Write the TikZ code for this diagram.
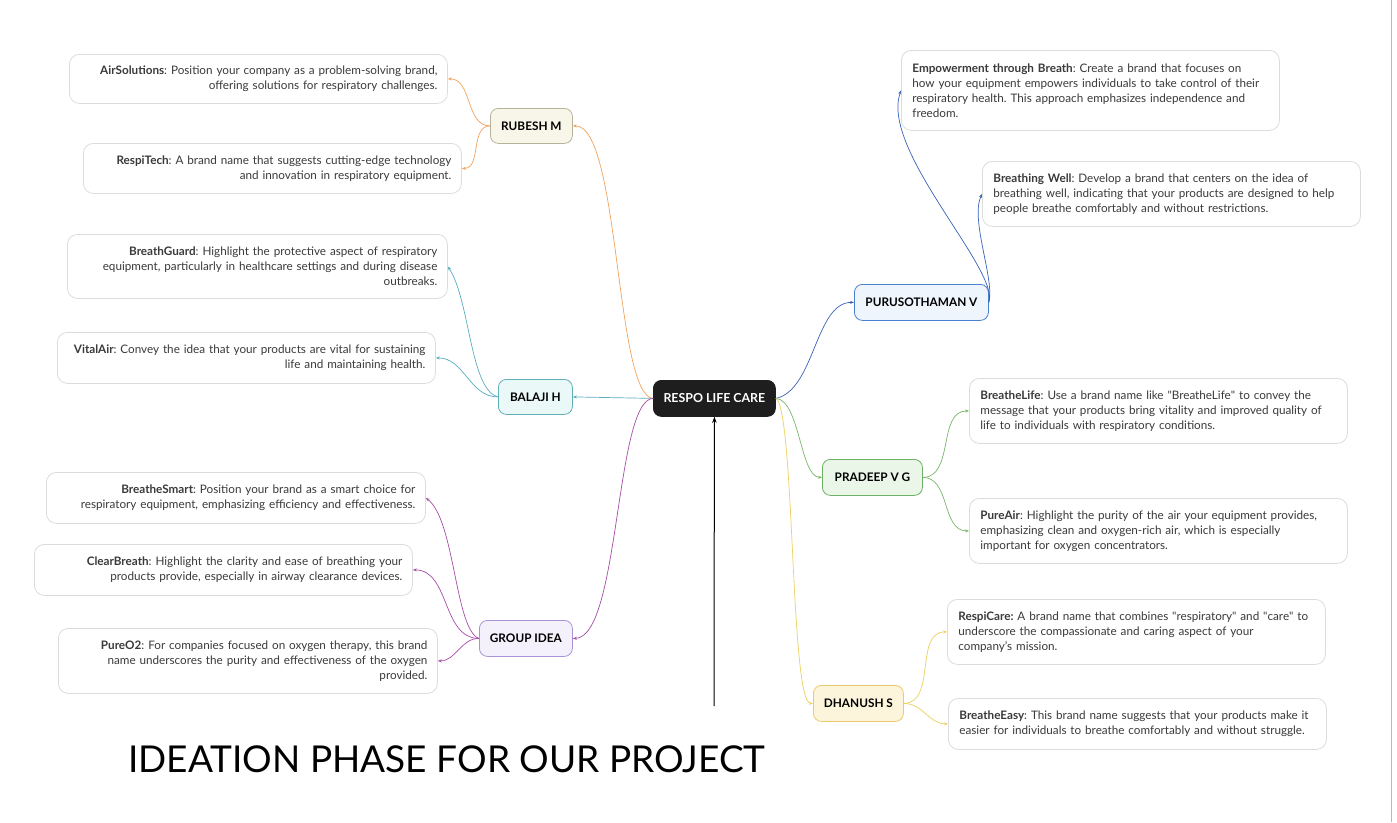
\documentclass[tikz,border=0pt]{standalone}
\usepackage{fontspec}
\setmainfont{Lato}
\usetikzlibrary{arrows.meta}
\definecolor{leafgray}{HTML}{DCDCDC}
\definecolor{txtgray}{HTML}{3A3A3A}
\definecolor{orangeln}{HTML}{F2A35E}
\definecolor{rubfill}{HTML}{F8F6E8}
\definecolor{rubdraw}{HTML}{B5B39A}
\definecolor{tealln}{HTML}{5AAEC0}
\definecolor{balfill}{HTML}{EAF8F8}
\definecolor{baldraw}{HTML}{5FAFB8}
\definecolor{purpleln}{HTML}{A64CA6}
\definecolor{grpfill}{HTML}{F4F1FC}
\definecolor{grpdraw}{HTML}{A993D6}
\definecolor{blueln}{HTML}{3A62B8}
\definecolor{purfill}{HTML}{EEF5FC}
\definecolor{purdraw}{HTML}{4A80D0}
\definecolor{greenln}{HTML}{7AB56C}
\definecolor{prafill}{HTML}{EAF6E7}
\definecolor{pradraw}{HTML}{6EAF66}
\definecolor{yellowln}{HTML}{EDD060}
\definecolor{dhafill}{HTML}{FDF4DC}
\definecolor{dhadraw}{HTML}{EBCB6A}
\definecolor{centerfill}{HTML}{1E1E1E}
\frenchspacing
\newcommand{\dq}{\textquotedbl}
\begin{document}
\begin{tikzpicture}[x=1pt,y=-1pt,
  leafbox/.style={draw=leafgray, line width=0.8pt, rounded corners=10pt, fill=white,
    anchor=north west, inner xsep=10pt, inner ysep=0pt, text=txtgray,
    font=\fontsize{11.7}{15}\selectfont},
  leafL/.style={leafbox, align=right},
  leafR/.style={leafbox, align=left},
  subbox/.style={line width=0.8pt, rounded corners=8pt, anchor=north west, inner sep=0pt,
    font=\fontsize{11.8}{14}\selectfont\bfseries, text=black},
  conn/.style={line width=0.7pt, -{Stealth[length=4pt,width=3pt]}}
]
\useasboundingbox (0,0) rectangle (1397,822);
\fill[white] (0,0) rectangle (1397,822);
\draw[gray!55, line width=1pt] (1391,0) -- (1391,822);

% center
\node[subbox, fill=centerfill, draw=centerfill, text=white, minimum width=122pt, minimum height=36pt, font=\fontsize{12.4}{14}\selectfont\bfseries] (c) at (653,380) {RESPO LIFE CARE};

% subtopics
\node[subbox, fill=rubfill, draw=rubdraw, minimum width=82pt, minimum height=35pt] (rub) at (490,108) {RUBESH M};
\node[subbox, fill=balfill, draw=baldraw, minimum width=74pt, minimum height=35pt] (bal) at (498,379) {BALAJI H};
\node[subbox, fill=grpfill, draw=grpdraw, minimum width=93pt, minimum height=36pt] (grp) at (479,620) {GROUP IDEA};
\node[subbox, fill=purfill, draw=purdraw, minimum width=134pt, minimum height=36pt] (pur) at (854,284) {PURUSOTHAMAN V};
\node[subbox, fill=prafill, draw=pradraw, minimum width=100pt, minimum height=36pt] (pra) at (822,459) {PRADEEP V G};
\node[subbox, fill=dhafill, draw=dhadraw, minimum width=90pt, minimum height=36pt] (dha) at (813,685) {DHANUSH S};

% left leaves
\node[leafL, text width=358pt, minimum height=49pt] (air) at (69,54)
  {\textbf{AirSolutions}: Position your company as a problem-solving brand,\\ offering solutions for respiratory challenges.};
\node[leafL, text width=358pt, minimum height=50pt] (rt) at (83,143)
  {\textbf{RespiTech}: A brand name that suggests cutting-edge technology\\ and innovation in respiratory equipment.};
\node[leafL, text width=360pt, minimum height=64pt] (bg) at (67,234)
  {\textbf{BreathGuard}: Highlight the protective aspect of respiratory\\ equipment, particularly in healthcare settings and during disease\\ outbreaks.};
\node[leafL, text width=358pt, minimum height=51pt] (va) at (57,332)
  {\textbf{VitalAir}: Convey the idea that your products are vital for sustaining\\ life and maintaining health.};
\node[leafL, text width=359pt, minimum height=51pt] (bs) at (46,472)
  {\textbf{BreatheSmart}: Position your brand as a smart choice for\\ respiratory equipment, emphasizing efficiency and effectiveness.};
\node[leafL, text width=358pt, minimum height=51pt] (cb) at (34,544)
  {\textbf{ClearBreath}: Highlight the clarity and ease of breathing your\\ products provide, especially in airway clearance devices.};
\node[leafL, text width=359pt, minimum height=65pt] (po) at (58,628)
  {\textbf{PureO2}: For companies focused on oxygen therapy, this brand\\ name underscores the purity and effectiveness of the oxygen\\ provided.};

% right leaves
\node[leafR, minimum height=80pt, inner xsep=11pt, text width=356pt] (emp) at (901,50)
  {\textbf{Empowerment through Breath}: Create a brand that focuses on\\ how your equipment empowers individuals to take control of their\\ respiratory health. This approach emphasizes independence and\\ freedom.};
\node[leafR, text width=356pt, minimum height=65pt, inner xsep=11pt] (bw) at (982,161)
  {\textbf{Breathing Well}: Develop a brand that centers on the idea of\\ breathing well, indicating that your products are designed to help\\ people breathe comfortably and without restrictions.};
\node[leafR, text width=356pt, minimum height=65pt, inner xsep=11pt] (bl) at (969,378)
  {\textbf{BreatheLife}: Use a brand name like \dq BreatheLife\dq{} to convey the\\ message that your products bring vitality and improved quality of\\ life to individuals with respiratory conditions.};
\node[leafR, text width=356pt, minimum height=65pt, inner xsep=11pt] (pa) at (969,498)
  {\textbf{PureAir}: Highlight the purity of the air your equipment provides,\\ emphasizing clean and oxygen-rich air, which is especially\\ important for oxygen concentrators.};
\node[leafR, text width=356pt, minimum height=65pt, inner xsep=11pt] (rc) at (947,599)
  {\textbf{RespiCare:} A brand name that combines \dq respiratory\dq{} and \dq care\dq{} to\\ underscore the compassionate and caring aspect of your\\ company's mission.};
\node[leafR, text width=356pt, minimum height=51pt, inner xsep=11pt] (be) at (948,698)
  {\textbf{BreatheEasy}: This brand name suggests that your products make it\\ easier for individuals to breathe comfortably and without struggle.};

% title
\node[anchor=west, inner sep=0pt, font=\fontsize{37}{40}\selectfont] (title) at (128,759) {IDEATION PHASE FOR OUR PROJECT};

% center connectors
\draw[conn, orangeln] (c.west) .. controls (615,395) and (620,125) .. (rub.east);
\draw[conn, tealln] (c.west) -- (bal.east);
\draw[conn, purpleln] (c.west) .. controls (615,400) and (620,638) .. (grp.east);
\draw[conn, blueln] (c.east) .. controls (815,390) and (815,302) .. (pur.west);
\draw[conn, greenln] (c.east) .. controls (800,400) and (800,477) .. (pra.west);
\draw[conn, yellowln] (c.east) .. controls (795,410) and (790,703) .. (dha.west);

% black arrow
\coordinate (base) at (714,706);
\draw[line width=1pt, -{Stealth[length=6pt,width=4.5pt]}] (base) -- (c.south);

% subtopic -> leaves
\draw[conn, orangeln] (rub.west) to[out=180, in=0] (air.east);
\draw[conn, orangeln] (rub.west) to[out=180, in=0] (rt.east);
\draw[conn, tealln] (bal.west) .. controls (470,390) and (470,300) .. (bg.east);
\draw[conn, tealln] (bal.west) to[out=180, in=0] (va.east);
\draw[conn, purpleln] (grp.west) .. controls (455,630) and (455,520) .. (bs.east);
\draw[conn, purpleln] (grp.west) to[out=180, in=0] (cb.east);
\draw[conn, purpleln] (grp.west) to[out=180, in=0] (po.east);
\draw[conn, blueln] (pur.east) .. controls (1000,270) and (880,150) .. (emp.west);
\draw[conn, blueln] (pur.east) .. controls (995,280) and (970,220) .. (bw.west);
\draw[conn, greenln] (pra.east) to[out=0, in=180] (bl.west);
\draw[conn, greenln] (pra.east) to[out=0, in=180] (pa.west);
\draw[conn, yellowln] (dha.east) to[out=0, in=180] (rc.west);
\draw[conn, yellowln] (dha.east) to[out=0, in=180] (be.west);
\end{tikzpicture}
\end{document}
